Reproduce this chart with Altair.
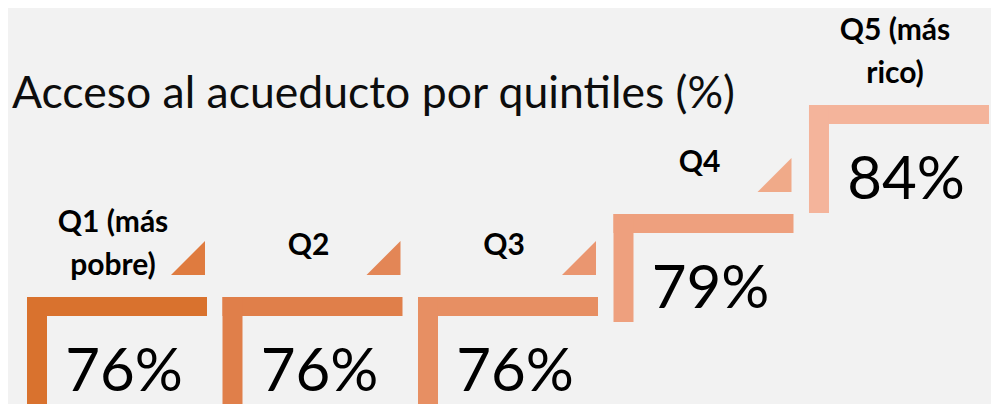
import altair as alt
import pandas as pd

# ---- data ----
quintiles = ["Q1 (más\npobre)", "Q2", "Q3", "Q4", "Q5 (más\nrico)"]
acceso = [76, 76, 76, 79, 84]
con_flecha = [True, True, True, True, False]
titulo = "Acceso al acueducto por quintiles (%)"

# ---- palette ----
bar_colors = ["#D9722E", "#E07F4A", "#E78F63", "#EEA07E", "#F4B49B"]
tri_colors = ["#DF7B3F", "#E38656", "#EA9670", "#F0AA89", "#F4B49B"]

df = pd.DataFrame({
    "quintil": quintiles,
    "pos": list(range(len(quintiles))),
    "valor": acceso,
    "flecha": con_flecha,
})
df["etiqueta"] = [f"{v}%" for v in acceso]
df_title = pd.DataFrame({"t": [titulo]})

W, H = 983, 396
xscale = alt.Scale(domain=[-0.0972, 4.931], nice=False, zero=False)
yscale = alt.Scale(domain=[76, 79, 84], range=[289, 206, 97], nice=False, zero=False)

X = alt.X("pos:Q", scale=xscale, axis=None)
X2 = alt.X2("pos:Q")
Y = alt.Y("valor:Q", scale=yscale, axis=None)
Y2 = alt.Y2("valor:Q")
COL = alt.Color("quintil:N", scale=alt.Scale(domain=quintiles, range=bar_colors), legend=None)

base = alt.Chart(df)

horiz = base.mark_rect(x2Offset=180, y2Offset=19).encode(x=X, x2=X2, y=Y, y2=Y2, color=COL)
vert = base.mark_rect(x2Offset=20, y2Offset=108).encode(x=X, x2=X2, y=Y, y2=Y2, color=COL)

tri = base.transform_filter("datum.flecha").mark_point(
    shape="M1,-1L1,1L-1,1Z", size=1156, filled=True, opacity=1, strokeWidth=0,
    xOffset=161, yOffset=-39,
).encode(
    x=X, y=Y,
    fill=alt.Fill("quintil:N", scale=alt.Scale(domain=quintiles, range=tri_colors), legend=None),
)

label_style = dict(
    font="Lato", fontWeight="bold", fontSize=30, lineBreak="\n", lineHeight=43,
    align="center", baseline="middle", xOffset=86, color="#000000",
)
labels_one = base.transform_filter("indexof(datum.quintil, '\\n') < 0").mark_text(
    yOffset=-51, **label_style
).encode(x=X, y=Y, text="quintil:N")
labels_two = base.transform_filter("indexof(datum.quintil, '\\n') >= 0").mark_text(
    yOffset=-74, **label_style
).encode(x=X, y=Y, text="quintil:N")

pct = base.mark_text(
    font="Lato", fontSize=60, align="center", baseline="alphabetic",
    xOffset=97, yOffset=94, color="#000000",
).encode(x=X, y=Y, text="etiqueta:N")

title = alt.Chart(df_title).mark_text(
    font="Lato", fontSize=44.5, align="left", baseline="alphabetic", color="#0D0D0D",
).encode(x=alt.value(4), y=alt.value(100), text="t:N")

chart = alt.layer(horiz, vert, tri, labels_one, labels_two, pct, title).resolve_scale(
    color="independent", fill="independent"
).properties(
    width=W, height=H, autosize=alt.AutoSizeParams(type="none"), padding=0,
    background="#F2F2F2",
).configure_view(stroke=None)

chart.save("out.html", embed_options={"renderer": "svg", "actions": False})
